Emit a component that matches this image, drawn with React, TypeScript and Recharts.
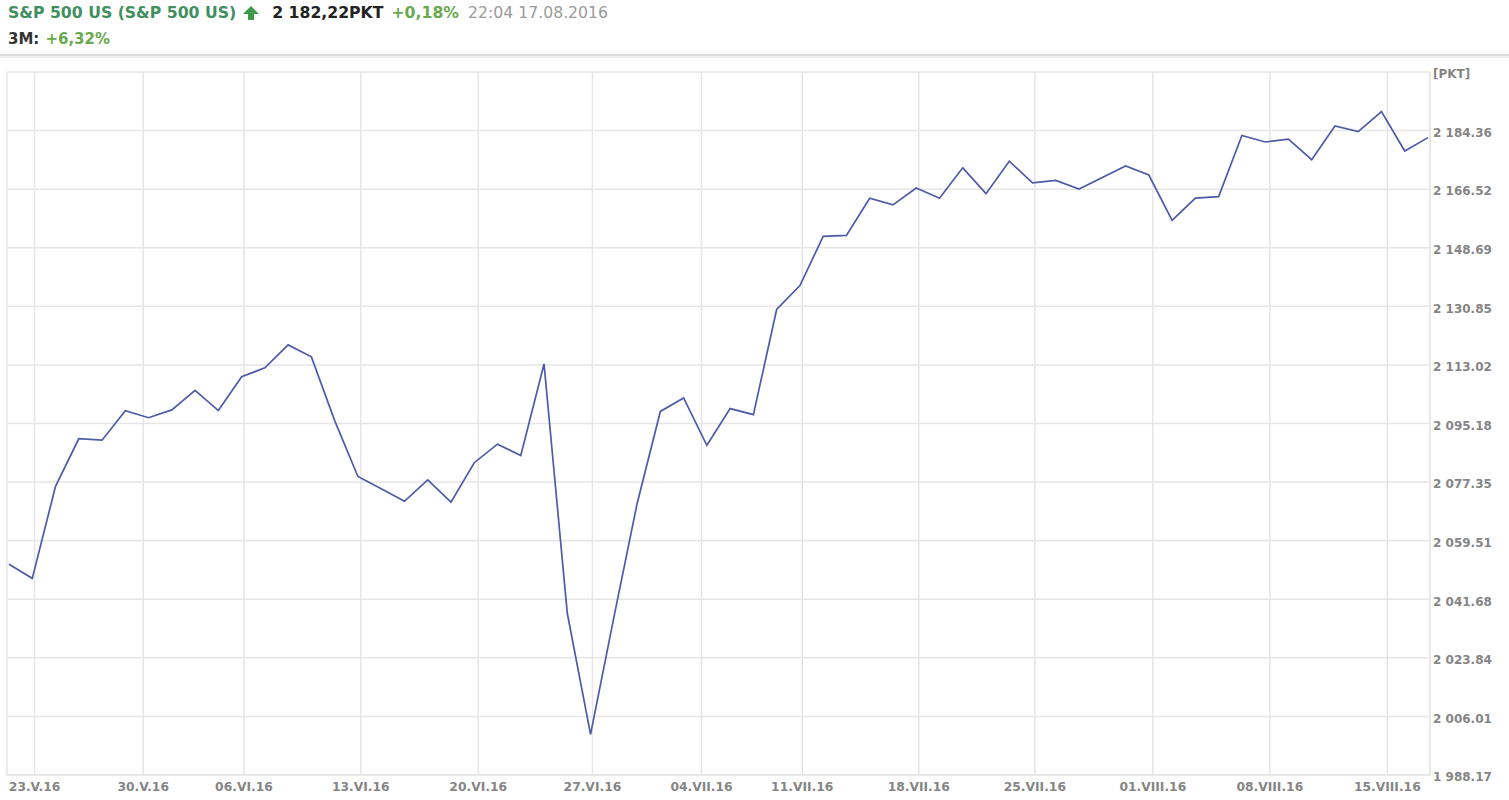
import React from 'react';
import { LineChart, Line, XAxis, YAxis, CartesianGrid } from 'recharts';

// S&P 500, daily closes 20.05.2016 - 17.08.2016
const dates = [
  '20.05', '23.05', '24.05', '25.05', '26.05', '27.05', '31.05', '01.06', '02.06', '03.06',
  '06.06', '07.06', '08.06', '09.06', '10.06', '13.06', '14.06', '15.06', '16.06', '17.06',
  '20.06', '21.06', '22.06', '23.06', '24.06', '27.06', '28.06', '29.06', '30.06', '01.07',
  '05.07', '06.07', '07.07', '08.07', '11.07', '12.07', '13.07', '14.07', '15.07', '18.07',
  '19.07', '20.07', '21.07', '22.07', '25.07', '26.07', '27.07', '28.07', '29.07', '01.08',
  '02.08', '03.08', '04.08', '05.08', '08.08', '09.08', '10.08', '11.08', '12.08', '15.08',
  '16.08', '17.08',
];

const closes = [
  2052.32, 2048.04, 2076.06, 2090.54, 2090.1, 2099.06, 2096.95, 2099.33, 2105.26, 2099.13,
  2109.41, 2112.13, 2119.12, 2115.48, 2096.07, 2079.06, 2075.32, 2071.5, 2077.99, 2071.22,
  2083.25, 2088.9, 2085.45, 2113.32, 2037.41, 2000.54, 2036.09, 2070.77, 2098.86, 2102.95,
  2088.55, 2099.73, 2097.9, 2129.9, 2137.16, 2152.14, 2152.43, 2163.75, 2161.74, 2166.89,
  2163.78, 2173.02, 2165.17, 2175.03, 2168.48, 2169.18, 2166.58, 2170.06, 2173.6, 2170.84,
  2157.03, 2163.79, 2164.25, 2182.87, 2180.89, 2181.74, 2175.49, 2185.79, 2184.05, 2190.15,
  2178.15, 2182.22,
];

// weekly grid lines (position on the trading-day index scale) and their labels
const xTickPos = [1.1, 5.77, 10.1, 15.12, 20.17, 25.08, 29.77, 34.1, 39.11, 44.1, 49.17, 54.2, 59.25];
const xTickLabels = [
  '23.V.16', '30.V.16', '06.VI.16', '13.VI.16', '20.VI.16', '27.VI.16', '04.VII.16',
  '11.VII.16', '18.VII.16', '25.VII.16', '01.VIII.16', '08.VIII.16', '15.VIII.16',
];

const yTicks = [
  1988.17, 2006.01, 2023.84, 2041.68, 2059.51, 2077.35, 2095.18, 2113.02, 2130.85,
  2148.69, 2166.52, 2184.36, 2202.2,
];

const data = closes.map((v, i) => ({ i, date: dates[i], close: v }));

const FONT = '"DejaVu Sans", Verdana, sans-serif';
const GREEN = '#3f8f5f';
const LIGHT_GREEN = '#6aa84f';

const fmtY = (v: number, idx: number) => {
  if (idx === yTicks.length - 1) return '[PKT]';
  const [int, dec] = v.toFixed(2).split('.');
  return int.replace(/\B(?=(\d{3})+(?!\d))/g, ' ') + '.' + dec;
};

const fmtX = (v: number) => {
  const k = xTickPos.indexOf(v);
  return k >= 0 ? xTickLabels[k] : '';
};

function Header() {
  return (
    <div style={{ position: 'absolute', left: 8, top: 0, fontFamily: FONT, fontSize: 15.7 }}>
      <div style={{ position: 'absolute', top: 3, whiteSpace: 'nowrap', display: 'flex', alignItems: 'center' }}>
        <span style={{ color: GREEN, fontWeight: 'bold' }}>S&amp;P 500 US (S&amp;P 500 US)</span>
        <svg width="18" height="16" style={{ marginLeft: 6, marginRight: 12 }}>
          <polygon points="9,1 17,9 12,9 12,15 6,15 6,9 1,9" fill="#3d9a48" />
        </svg>
        <span style={{ color: '#222', fontWeight: 'bold' }}>2 182,22PKT</span>
        <span style={{ color: LIGHT_GREEN, fontWeight: 'bold', marginLeft: 8 }}>+0,18%</span>
        <span style={{ color: '#9a9a9a', marginLeft: 9 }}>22:04 17.08.2016</span>
      </div>
      <div style={{ position: 'absolute', top: 30, whiteSpace: 'nowrap', fontSize: 15 }}>
        <span style={{ color: '#333', fontWeight: 'bold' }}>3M:</span>
        <span style={{ color: LIGHT_GREEN, fontWeight: 'bold', marginLeft: 6 }}>+6,32%</span>
      </div>
    </div>
  );
}

export default function App() {
  return (
    <div style={{ position: 'absolute', left: 0, top: 0, width: 1509, height: 800, background: '#fff' }}>
      <Header />
      <div style={{ position: 'absolute', left: 0, top: 54, width: 1509, height: 2, background: '#dcdcdc' }} />
      <div style={{ position: 'absolute', left: 0, top: 56, width: 1509, height: 2, background: '#efefef' }} />
      <div style={{ position: 'absolute', left: 0, top: 0 }}>
        <LineChart width={1509} height={800} data={data} margin={{ top: 72, right: 8, bottom: 0, left: 7 }}>
          <CartesianGrid stroke="#e6e6e6" strokeWidth={1.5} yAxisId="r" />
          <XAxis
            dataKey="i"
            type="number"
            domain={[0, 61]}
            ticks={xTickPos}
            interval={0}
            tickFormatter={fmtX}
            padding={{ left: 2, right: 2 }}
            height={25}
            tickLine={false}
            tickSize={0}
            tickMargin={7}
            axisLine={{ stroke: '#e6e6e6', strokeWidth: 1.5 }}
            tick={{ fill: '#858585', fontSize: 12.3, fontWeight: 'bold', fontFamily: FONT }}
          />
          <YAxis
            yAxisId="l"
            orientation="left"
            width={0}
            domain={[yTicks[0], yTicks[yTicks.length - 1]]}
            ticks={yTicks}
            tick={false}
            tickLine={false}
            axisLine={{ stroke: '#e6e6e6', strokeWidth: 1.5 }}
          />
          <YAxis
            yAxisId="r"
            orientation="right"
            width={71}
            domain={[yTicks[0], yTicks[yTicks.length - 1]]}
            ticks={yTicks}
            interval={0}
            tickFormatter={fmtY}
            tickLine={false}
            tickSize={0}
            tickMargin={3}
            axisLine={{ stroke: '#e6e6e6', strokeWidth: 1.5 }}
            tick={{ fill: '#858585', fontSize: 12, fontWeight: 'bold', fontFamily: FONT, textAnchor: 'start', dy: 2 }}
          />
          <Line
            yAxisId="r"
            type="linear"
            dataKey="close"
            stroke="#4d5ba8"
            strokeWidth={1.7}
            dot={false}
            activeDot={false}
            isAnimationActive={false}
          />
        </LineChart>
      </div>
    </div>
  );
}
